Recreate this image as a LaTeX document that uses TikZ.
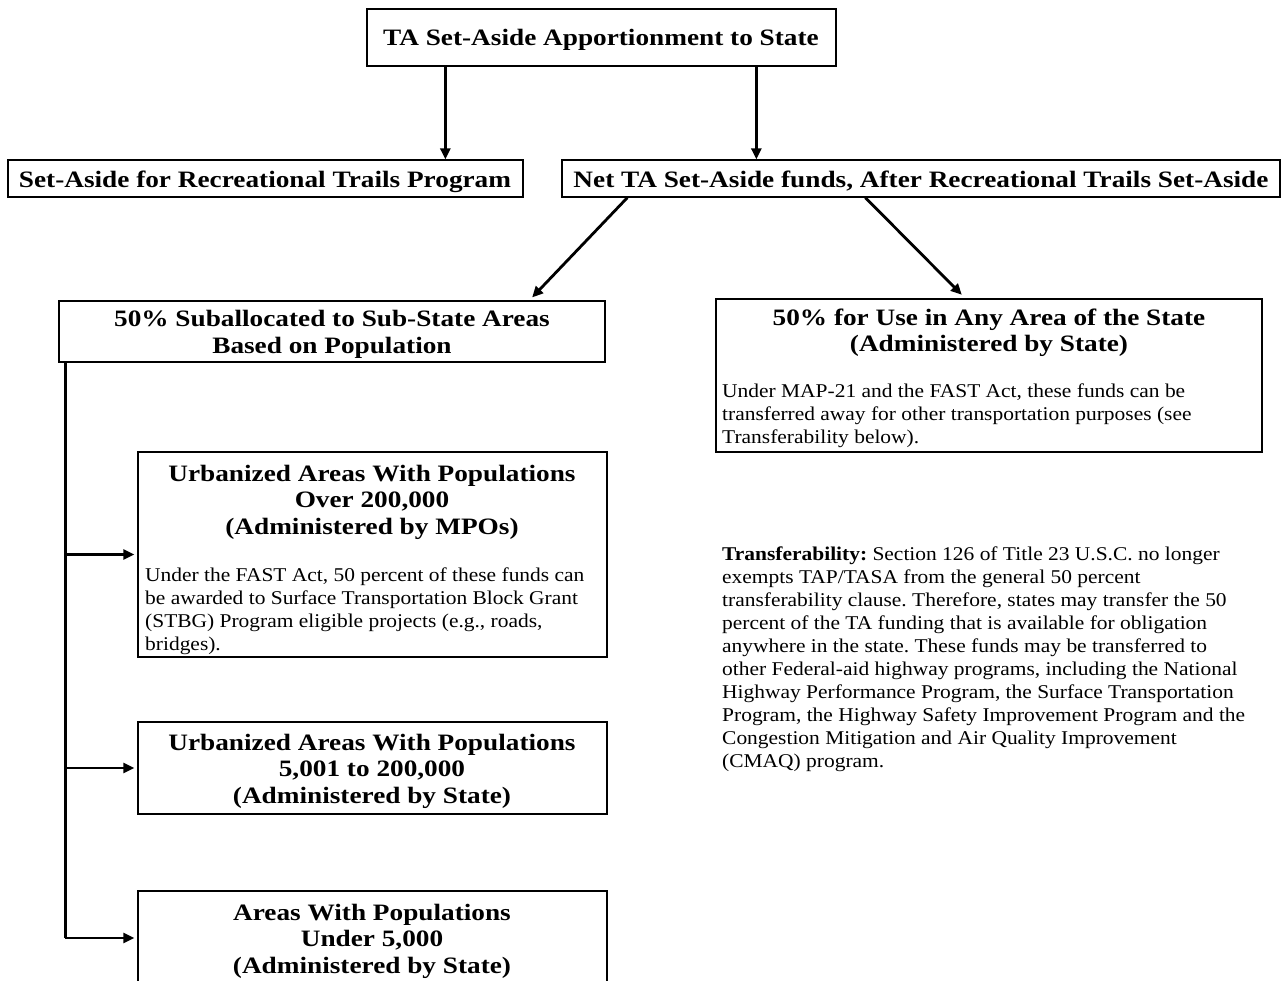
\documentclass[tikz,border=0pt]{standalone}
\usepackage{fontspec}
\setmainfont{Liberation Serif}
\newfontfamily\headf[FakeStretch=1.16]{Liberation Serif}
\newfontfamily\bodyf[FakeStretch=1.1]{Liberation Serif}
\frenchspacing
\usetikzlibrary{arrows.meta}
\tikzset{
  box/.style={draw, line width=1.3pt, inner sep=0pt},
  head/.style={inner sep=0pt, align=center, font=\headf\bfseries\fontsize{23.5}{26.5}\selectfont},
  body/.style={inner sep=0pt, align=left, font=\bodyf\fontsize{19.5}{23}\selectfont},
  arr/.style={line width=2.8pt, -{Triangle[length=11pt,width=10pt]}},
}
\begin{document}
\begin{tikzpicture}[x=1pt,y=-1pt]
\useasboundingbox (0,0) rectangle (1283,981);
\clip (0,0) rectangle (1283,981);
% boxes
\node[box, minimum width=469pt, minimum height=57pt] (top) at (601.5,37.5) {};
\node[box, minimum width=515pt, minimum height=37pt] (rtp) at (265.5,178.5) {};
\node[box, minimum width=718pt, minimum height=37pt] (net) at (921,178.5) {};
\node[box, minimum width=546pt, minimum height=61pt] (sub) at (332,331.5) {};
\node[box, minimum width=546pt, minimum height=153pt] (any) at (989,375.5) {};
\node[box, minimum width=469pt, minimum height=205pt] (urb1) at (372.5,554.5) {};
\node[box, minimum width=469pt, minimum height=92pt] (urb2) at (372.5,768) {};
\node[box, minimum width=469pt, minimum height=94pt] (areas) at (372.5,938) {};
% texts
\node[head] (ttop) at (601,39.5) {TA Set-Aside Apportionment to State};
\node[head] (trtp) at (265,181.5) {Set-Aside for Recreational Trails Program};
\node[head] (tnet) at (921,181.5) {Net TA Set-Aside funds, After Recreational Trails Set-Aside};
\node[head] (tsub) at (332,334.5) {50\% Suballocated to Sub-State Areas\\Based on Population};
\node[head] (tany) at (989,333) {50\% for Use in Any Area of the State\\(Administered by State)};
\node[body, anchor=west] (bany) at (722,415.5) {Under MAP-21 and the FAST Act, these funds can be\\transferred away for other transportation purposes (see\\Transferability below).};
\node[head] (turb1) at (372,502) {Urbanized Areas With Populations\\Over 200,000\\(Administered by MPOs)};
\node[body, anchor=west] (burb1) at (145,611) {Under the FAST Act, 50 percent of these funds can\\be awarded to Surface Transportation Block Grant\\(STBG) Program eligible projects (e.g., roads,\\bridges).};
\node[head] (turb2) at (372,771) {Urbanized Areas With Populations\\5,001 to 200,000\\(Administered by State)};
\node[head] (tareas) at (372,941) {Areas With Populations\\Under 5,000\\(Administered by State)};
\node[body, anchor=west] (ttrans) at (722,659) {{\bfseries Transferability:} Section 126 of Title 23 U.S.C. no longer\\exempts TAP/TASA from the general 50 percent\\transferability clause. Therefore, states may transfer the 50\\percent of the TA funding that is available for obligation\\anywhere in the state. These funds may be transferred to\\other Federal-aid highway programs, including the National\\Highway Performance Program, the Surface Transportation\\Program, the Highway Safety Improvement Program and the\\Congestion Mitigation and Air Quality Improvement\\(CMAQ) program.};
% connectors
\draw[arr] ([xshift=79pt]top.south west) -- ([xshift=438pt]rtp.north west);
\draw[arr] ([xshift=390pt]top.south west) -- ([xshift=195pt]net.north west);
\draw[arr, shorten >=4pt] ([xshift=66pt]net.south west) -- ([xshift=471pt]sub.north west);
\draw[arr, shorten >=5pt] ([xshift=304pt]net.south west) -- ([xshift=250pt]any.north west);
\coordinate (trunk) at ([xshift=7pt]sub.south west);
\draw[line width=2.8pt] (trunk) -- (trunk |- areas.west);
\draw[arr, shorten >=3pt] (trunk |- urb1.west) -- (urb1.west);
\draw[arr, shorten >=3pt] (trunk |- urb2.west) -- (urb2.west);
\draw[arr, shorten >=3pt] (trunk |- areas.west) -- (areas.west);
\end{tikzpicture}
\end{document}
